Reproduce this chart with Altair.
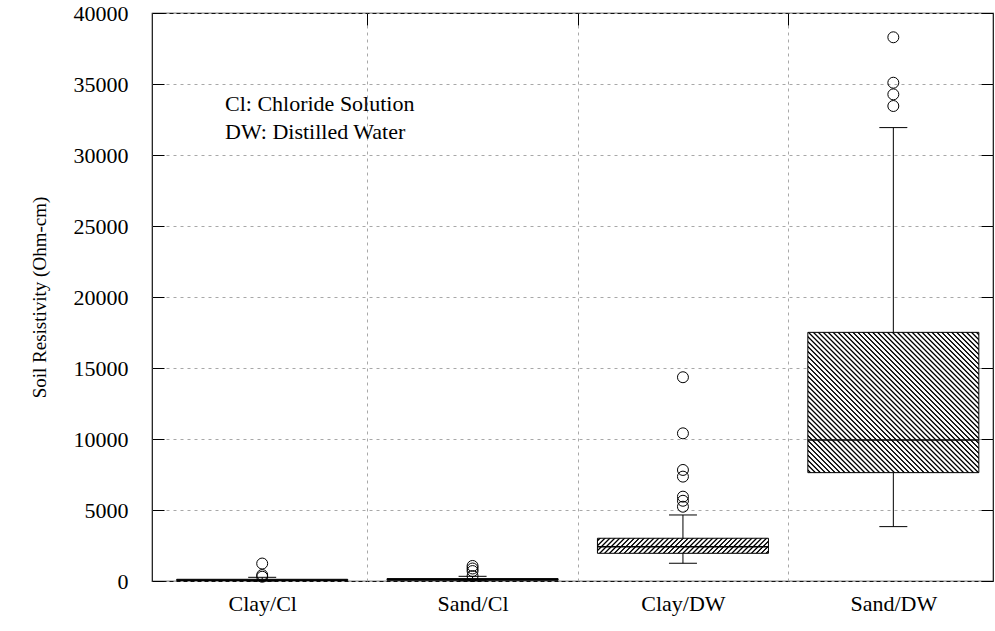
import math
import altair as alt
import pandas as pd

# ---------------- data ----------------
categories = ["Clay/Cl", "Sand/Cl", "Clay/DW", "Sand/DW"]
whisker_low = [0, 10, 1250, 3830]
quartile1 = [30, 50, 1950, 7630]
medians = [70, 110, 2420, 9930]
quartile3 = [120, 170, 3010, 17510]
whisker_high = [260, 330, 4650, 31930]
outliers_clay_cl = [1230, 420, 300]
outliers_sand_cl = [1060, 880, 700, 350]
outliers_clay_dw = [14350, 10400, 7820, 7350, 5940, 5650, 5230]
outliers_sand_dw = [38290, 35090, 34270, 33450]
y_ticks = [0, 5000, 10000, 15000, 20000, 25000, 30000, 35000, 40000]
legend_lines = ["Cl: Chloride Solution", "DW: Distilled Water"]
y_title = "Soil Resistivity (Ohm-cm)"

# ---------------- layout / style ----------------
PLOT_W, PLOT_H = 841, 568
Y_MAX = 40000
BOX_W = 171
CAP_W = 28
FONT = "Liberation Serif"
FS = 22
TITLE_FS = 19
GRID_COLOR = "#a8a8a8"
GRID_DASH = [3, 4]
HATCH_PERIOD = 3.5

pos = list(range(len(categories)))
box_df = pd.DataFrame({
    "category": categories, "pos": pos,
    "low": whisker_low, "q1": quartile1, "median": medians,
    "q3": quartile3, "high": whisker_high,
})
out_rows = []
for cat, vals in zip(categories, [outliers_clay_cl, outliers_sand_cl,
                                  outliers_clay_dw, outliers_sand_dw]):
    for v in vals:
        out_rows.append({"category": cat, "pos": categories.index(cat), "value": v})
out_df = pd.DataFrame(out_rows)

x_scale = alt.Scale(domain=[-0.5, 3.45], nice=False, zero=False)
y_scale = alt.Scale(domain=[0, Y_MAX], nice=False, zero=True)

label_expr = "[" + ",".join("'%s'" % c for c in categories) + "][round(datum.value)]"

x_axis = alt.Axis(values=pos, labelExpr=label_expr, ticks=False, grid=False,
                  domain=False, labelFont=FONT, labelFontSize=FS,
                  labelColor="black", labelPadding=12, labelFlush=False)
y_axis = alt.Axis(values=y_ticks, orient="left", offset=-12, tickSize=12,
                  tickColor="black", domain=False, grid=True,
                  gridColor=GRID_COLOR, gridDash=GRID_DASH, gridWidth=1,
                  labelFont=FONT, labelFontSize=FS, labelColor="black",
                  labelPadding=24, format="d", title=y_title,
                  titleFont=FONT, titleFontSize=TITLE_FS,
                  titleFontWeight="normal", titleColor="black",
                  titlePadding=24)


def X():
    return alt.X("pos:Q", scale=x_scale, title=None, axis=x_axis)


def Y(field):
    return alt.Y(field + ":Q", scale=y_scale, title=y_title, axis=y_axis)


def hatch(cat, direction):
    """Diagonal hatching as a repeating linear gradient over the box."""
    i = categories.index(cat)
    w = float(BOX_W)
    h = (quartile3[i] - quartile1[i]) * PLOT_H / Y_MAX
    k = (w + h) / (w * w + h * h)
    n = max(1, int(round((w + h) / math.sqrt(2) / HATCH_PERIOD)))
    profile = [(0.0, "#ffffff"), (0.22, "#ffffff"), (0.45, "#000000"),
               (0.60, "#000000"), (0.83, "#ffffff"), (1.0, "#ffffff")]
    stops = []
    for j in range(n):
        for off, col in profile:
            stops.append(alt.GradientStop(color=col, offset=min(1.0, (j + off) / n)))
    if direction == "/":
        x1, y1, x2, y2 = 0, 0, w * k, h * k
    else:
        x1, y1, x2, y2 = 0, 1, w * k, 1 - h * k
    return alt.LinearGradient(gradient="linear", stops=stops,
                              x1=x1, y1=y1, x2=x2, y2=y2)


base = alt.Chart(box_df)

boxes_cl = base.mark_bar(size=BOX_W, fill="white", stroke="black",
                         strokeWidth=1).encode(
    x=X(), y=Y("q1"), y2="q3"
).transform_filter(alt.FieldOneOfPredicate(field="category",
                                           oneOf=["Clay/Cl", "Sand/Cl"]))

box_clay_dw = base.mark_bar(size=BOX_W, fill=hatch("Clay/DW", "/"),
                            stroke="black", strokeWidth=1).encode(
    x=X(), y=Y("q1"), y2="q3"
).transform_filter(alt.FieldEqualPredicate(field="category", equal="Clay/DW"))

box_sand_dw = base.mark_bar(size=BOX_W, fill=hatch("Sand/DW", "\\"),
                            stroke="black", strokeWidth=1).encode(
    x=X(), y=Y("q1"), y2="q3"
).transform_filter(alt.FieldEqualPredicate(field="category", equal="Sand/DW"))

whisk_lo = base.mark_rule(color="black", strokeWidth=1).encode(
    x=X(), y=Y("low"), y2="q1")
whisk_hi = base.mark_rule(color="black", strokeWidth=1).encode(
    x=X(), y=Y("q3"), y2="high")
cap_lo = base.mark_tick(orient="horizontal", size=CAP_W, thickness=1,
                        color="black", opacity=1).encode(x=X(), y=Y("low"))
cap_hi = base.mark_tick(orient="horizontal", size=CAP_W, thickness=1,
                        color="black", opacity=1).encode(x=X(), y=Y("high"))
med = base.mark_tick(orient="horizontal", size=BOX_W, thickness=1.5,
                     color="black", opacity=1).encode(x=X(), y=Y("median"))

points = alt.Chart(out_df).mark_point(
    shape="circle", filled=False, size=120, stroke="black",
    strokeWidth=1, opacity=1
).encode(x=X(), y=Y("value"))

legend = alt.Chart(pd.DataFrame({"t": ["\n".join(legend_lines)]})).mark_text(
    align="left", baseline="top", font=FONT, fontSize=FS, color="black",
    lineBreak="\n", lineHeight=28
).encode(text="t:N", x=alt.value(73), y=alt.value(81))

main = alt.layer(boxes_cl, box_clay_dw, box_sand_dw, whisk_lo, whisk_hi,
                 cap_lo, cap_hi, med, points, legend)

# mirrored axes (top and right) with inward ticks; top carries the vertical grid
axes_layer = base.mark_point(opacity=0).encode(
    x=alt.X("pos:Q", scale=x_scale, title=None,
            axis=alt.Axis(orient="top", values=[0.5, 1.5, 2.5], offset=-12,
                          tickSize=12, tickColor="black", labels=False,
                          domain=False, grid=True, gridColor=GRID_COLOR,
                          gridDash=GRID_DASH, gridWidth=1)),
    y=alt.Y("high:Q", scale=y_scale, title=None,
            axis=alt.Axis(orient="right", values=y_ticks, offset=-12,
                          tickSize=12, tickColor="black", labels=False,
                          domain=False, grid=False)),
)

chart = alt.layer(main, axes_layer).resolve_axis(
    x="independent", y="independent"
).properties(
    width=PLOT_W, height=PLOT_H,
    padding={"left": 152, "top": 13, "right": 2, "bottom": 50},
    autosize=alt.AutoSizeParams(type="none"),
    background="white",
).configure_view(stroke="#111111", strokeWidth=1.2)

chart.save("out.html", embed_options={"renderer": "svg", "actions": False})
